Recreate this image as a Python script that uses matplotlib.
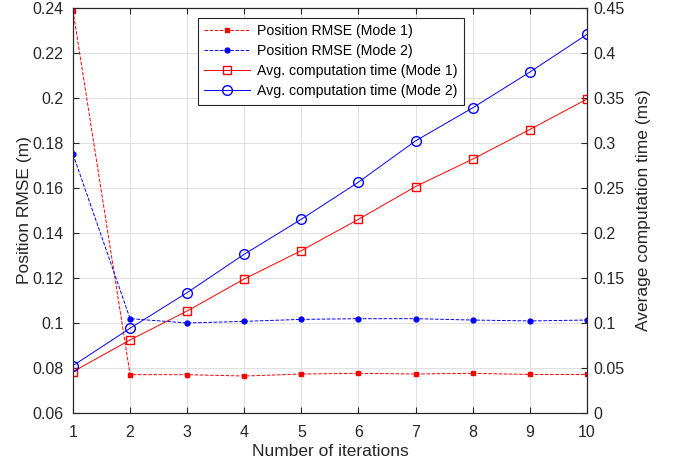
import numpy as np
import matplotlib.pyplot as plt

plt.rcParams['font.family'] = ['Liberation Sans', 'DejaVu Sans']

iters = [1, 2, 3, 4, 5, 6, 7, 8, 9, 10]
rmse_mode1 = [0.2387, 0.0769, 0.0769, 0.0763, 0.0772, 0.0775, 0.0772, 0.0775, 0.0770, 0.0770]
rmse_mode2 = [0.1749, 0.1018, 0.0999, 0.1006, 0.1015, 0.1018, 0.1018, 0.1012, 0.1008, 0.1012]
time_mode1 = [0.0456, 0.0809, 0.1131, 0.1487, 0.1802, 0.2150, 0.2514, 0.2819, 0.3148, 0.3486]
time_mode2 = [0.0523, 0.0939, 0.1335, 0.1762, 0.2151, 0.2563, 0.3022, 0.3389, 0.3786, 0.4205]

axc = '#262626'
fig = plt.figure(figsize=(6.73, 4.65), dpi=100)
ax = fig.add_axes([0.1085, 0.1125, 0.7635, 0.8705])
ax2 = ax.twinx()

l1, = ax.plot(iters, rmse_mode1, '--', color='red', lw=0.7, marker='s', ms=3, label='Position RMSE (Mode 1)')
l2, = ax.plot(iters, rmse_mode2, '--', color='blue', lw=0.7, marker='o', ms=3.5, label='Position RMSE (Mode 2)')
l3, = ax2.plot(iters, time_mode1, '-', color='red', lw=0.7, marker='s', ms=5.5, mfc='none', label='Avg. computation time (Mode 1)')
l4, = ax2.plot(iters, time_mode2, '-', color='blue', lw=0.7, marker='o', ms=7, mfc='none', label='Avg. computation time (Mode 2)')

ax.set_xlim(1, 10)
ax.set_ylim(0.06, 0.24)
ax2.set_ylim(0, 0.45)
ax.set_xticks(iters)
ax.set_yticks(np.arange(0.06, 0.2401, 0.02))
ax.set_yticklabels(['0.06', '0.08', '0.1', '0.12', '0.14', '0.16', '0.18', '0.2', '0.22', '0.24'])
ax2.set_yticks(np.arange(0, 0.4501, 0.05))
ax2.set_yticklabels(['0', '0.05', '0.1', '0.15', '0.2', '0.25', '0.3', '0.35', '0.4', '0.45'])
ax.grid(True, color='#e0e0e0', lw=0.7)

for a in (ax, ax2):
    a.tick_params(direction='in', labelsize=11.5, colors=axc, length=4)
    for s in a.spines.values():
        s.set_color(axc)
        s.set_linewidth(0.8)
ax.tick_params(top=True)
ax.tick_params(axis='x', pad=9)
ax.tick_params(axis='y', pad=7)
ax2.tick_params(axis='y', pad=5)

ax.set_xlabel('Number of iterations', fontsize=12.5, color=axc, labelpad=3)
ax.set_ylabel('Position RMSE (m)', fontsize=12.5, color=axc, labelpad=0)
ax2.set_ylabel('Average computation time (ms)', fontsize=12.5, color=axc, labelpad=8)

leg = ax2.legend(handles=[l1, l2, l3, l4], loc='upper left', bbox_to_anchor=(0.243, 0.975),
                 fontsize=10.2, fancybox=False, edgecolor=axc, framealpha=1,
                 borderpad=0.45, labelspacing=0.42, handlelength=3.2, handletextpad=0.5,
                 borderaxespad=0)
leg.get_frame().set_linewidth(0.8)

fig.savefig('out.png', dpi=100)
